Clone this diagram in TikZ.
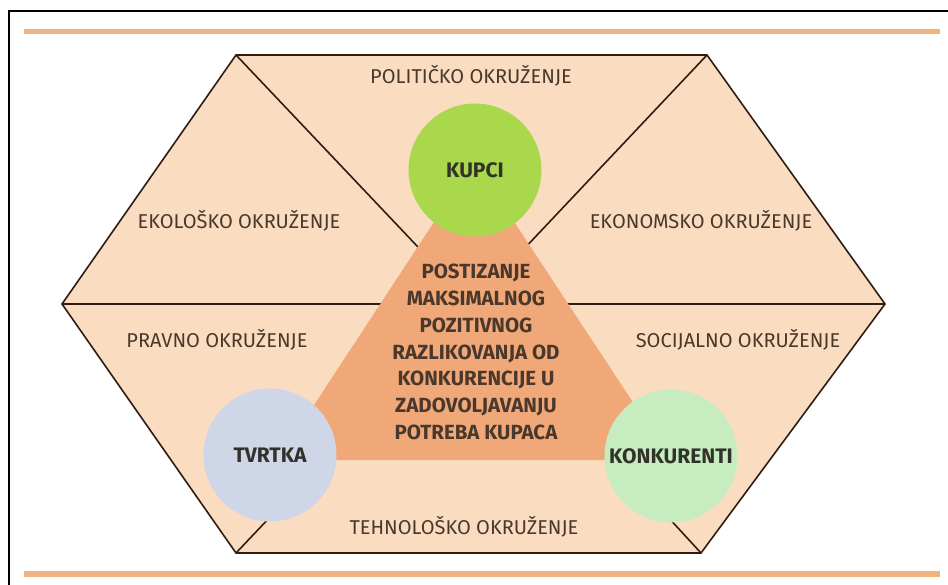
\documentclass[tikz,border=0pt]{standalone}
\usepackage{fontspec}
\setmainfont{Fira Sans}
\definecolor{hexfill}{RGB}{250,221,192}
\definecolor{trifill}{RGB}{241,168,120}
\definecolor{bandc}{RGB}{242,180,126}
\definecolor{linec}{RGB}{48,28,18}
\definecolor{txtc}{RGB}{74,56,44}
\definecolor{darktxt}{RGB}{50,50,42}
\definecolor{kupcic}{RGB}{170,216,76}
\definecolor{tvrtkac}{RGB}{206,214,232}
\definecolor{konkc}{RGB}{198,236,192}
\tikzset{
  edge/.style={draw=linec, line width=1.6pt},
  envlabel/.style={text=txtc, font=\fontsize{20}{23}\selectfont, inner sep=0pt},
  actor/.style={circle, minimum size=133pt, inner sep=0pt, text=darktxt, font=\bfseries\fontsize{21}{24}\selectfont},
  goal/.style={text=txtc, align=center, font=\bfseries\fontsize{20.5}{26.8}\selectfont, inner sep=0pt},
}
\begin{document}
\begin{tikzpicture}[x=1pt,y=-1pt]
\useasboundingbox (0,0) rectangle (948,585);
\fill[white] (0,0) rectangle (948,585);
\draw[black, line width=1.5pt] (9,585) -- (9,11) -- (948,11);
\fill[bandc] (24,29) rectangle (940,34);
\fill[bandc] (24,571) rectangle (940,577);
\coordinate (L) at (62,304);
\coordinate (TL) at (236,55);
\coordinate (TR) at (707,55);
\coordinate (R) at (885,304);
\coordinate (BR) at (701,553);
\coordinate (BL) at (236,553);
\coordinate (C) at (472,304);
\fill[hexfill] (L) -- (TL) -- (TR) -- (R) -- (BR) -- (BL) -- cycle;
\draw[edge] (TL) -- (C);
\draw[edge] (TR) -- (C);
\draw[edge] (BL) -- (C);
\draw[edge] (BR) -- (C);
\draw[edge] (L) -- (R);
\draw[edge, line join=miter] (L) -- (TL) -- (TR) -- (R) -- (BR) -- (BL) -- cycle;
\fill[trifill] (474,161) -- (278,460) -- (671,460) -- cycle;
\node[actor, fill=kupcic] (kupci) at (475,170) {KUPCI};
\node[actor, fill=tvrtkac] (tvrtka) at (270,455) {TVRTKA};
\node[actor, fill=konkc] (konk) at (671,456) {KONKURENTI};
\node[goal] (goal) at (476,352) {POSTIZANJE\\MAKSIMALNOG\\POZITIVNOG\\RAZLIKOVANJA OD\\KONKURENCIJE U\\ZADOVOLJAVANJU\\POTREBA KUPACA};
\node[envlabel] (pol) at (471,76) {POLITIČKO OKRUŽENJE};
\node[envlabel] (eko) at (239,221) {EKOLOŠKO OKRUŽENJE};
\node[envlabel] (ekon) at (701,221) {EKONOMSKO OKRUŽENJE};
\node[envlabel] (prav) at (217,340) {PRAVNO OKRUŽENJE};
\node[envlabel] (soc) at (738,340) {SOCIJALNO OKRUŽENJE};
\node[envlabel] (teh) at (464,527) {TEHNOLOŠKO OKRUŽENJE};
\end{tikzpicture}
\end{document}
